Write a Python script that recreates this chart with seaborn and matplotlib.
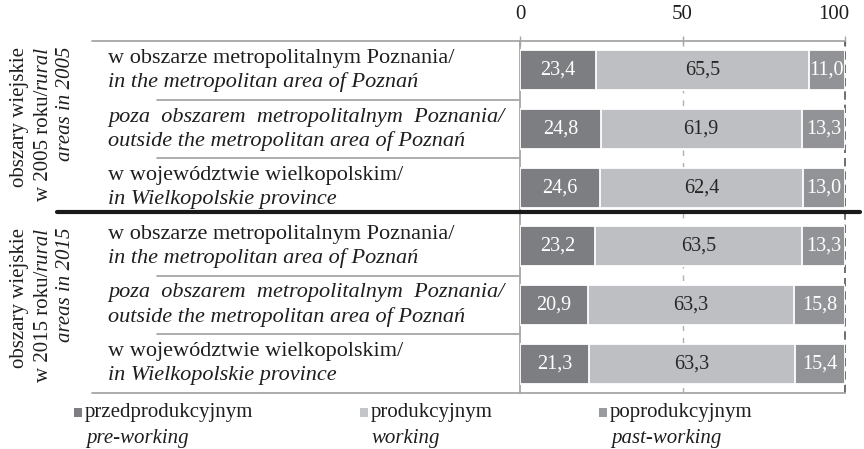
import pandas as pd
import matplotlib.pyplot as plt
import matplotlib.transforms as mtransforms
from matplotlib.patches import Rectangle
import seaborn as sns

# data (percent shares of population by age group)
row_keys = ["2005_metro", "2005_outside", "2005_prov", "2015_metro", "2015_outside", "2015_prov"]
pre_working = [23.4, 24.8, 24.6, 23.2, 20.9, 21.3]
working = [65.5, 61.9, 62.4, 63.5, 63.3, 63.3]
past_working = [11.0, 13.3, 13.0, 13.3, 15.8, 15.4]

row_pl = ["w obszarze metropolitalnym Poznania/",
          "poza  obszarem  metropolitalnym  Poznania/",
          "w województwie wielkopolskim/"] * 2
row_en = ["in the metropolitan area of Poznań",
          "outside the metropolitan area of Poznań",
          "in Wielkopolskie province"] * 2
row_pl_italic = [False, True, False] * 2

group_years = ["2005", "2015"]
legend_pl = ["przedprodukcyjnym", "produkcyjnym", "poprodukcyjnym"]
legend_en = ["pre-working", "working", "past-working"]
x_ticks = [0, 50, 100]

c_pre = "#7d7e82"
c_work = "#bebfc3"
c_past = "#929397"
line_grey = "#a6a6a6"
txt = "#1e1e1e"

df = pd.DataFrame({"row": row_keys, "pre": pre_working, "work": working, "past": past_working})
df["pre_work"] = df["pre"] + df["work"]
df["total"] = df["pre_work"] + df["past"]

sns.set_theme(style="white")
plt.rcParams["font.family"] = ["Liberation Serif", "DejaVu Serif"]
FS = 14.5      # numbers in bars, ticks
FS_ROW = 16    # row labels
FS_LEG = 15

fig = plt.figure(figsize=(8.64, 4.49), dpi=100)
ax = fig.add_axes([520 / 864, 1 - 393 / 449, 325 / 864, 352 / 449])

# stacked bars: draw cumulative totals from the back to the front
bar_kw = dict(orient="h", width=0.68, edgecolor="white", linewidth=1.3, zorder=3, saturation=1)
sns.barplot(data=df, y="row", x="total", color=c_past, ax=ax, **bar_kw)
sns.barplot(data=df, y="row", x="pre_work", color=c_work, ax=ax, **bar_kw)
sns.barplot(data=df, y="row", x="pre", color=c_pre, ax=ax, **bar_kw)

ax.set_xlim(0, 100)
ax.set_ylim(5.5, -0.5)
ax.set_xlabel("")
ax.set_ylabel("")
ax.set_yticks([])
ax.set_xticks(x_ticks)
ax.xaxis.tick_top()
ax.tick_params(axis="x", direction="inout", length=7, width=1, color=line_grey,
               labelsize=FS_LEG, pad=9, labelcolor=txt)
ax.get_xticklabels()[-1].set_ha("right")
ax.get_xticklabels()[-1].set_x(100)
lbl = ax.get_xticklabels()[-1]
lbl.set_transform(lbl.get_transform() + mtransforms.ScaledTranslation(4 / 100, 0, fig.dpi_scale_trans))
for s in ["top", "bottom", "left"]:
    ax.spines[s].set_color(line_grey)
    ax.spines[s].set_linewidth(1.3)
ax.spines["right"].set_visible(False)

# dashed guides at 50 and 100
ax.axvline(50, color="#b0b0b0", lw=1, ls=(0, (4, 5)), zorder=1)
ax.axvline(100, color="#555555", lw=1.2, ls=(0, (5, 3)), zorder=1, clip_on=False)

# segment labels
for i, r in df.iterrows():
    segs = [(0, r["pre"], "white"), (r["pre"], r["work"], "#262626"), (r["pre_work"], r["past"], "white")]
    for start, val, col in segs:
        ax.text(start + val / 2, i, f"{val:.1f}".replace(".", ","), ha="center", va="center",
                fontsize=FS, color=col, zorder=5)

# table lines on the left side
tr = mtransforms.blended_transform_factory(fig.transFigure, ax.transData)
for yb in [0.5, 1.5, 3.5, 4.5]:
    ax.plot([157 / 864, 520 / 864], [yb, yb], transform=tr, color=line_grey, lw=1.3, clip_on=False)
for yb in [-0.5, 5.5]:
    ax.plot([92 / 864, 520 / 864], [yb, yb], transform=tr, color=line_grey, lw=1.3, clip_on=False)
ax.plot([57 / 864, 860 / 864], [2.42, 2.42], transform=tr, color="#1a1a1a", lw=3, clip_on=False, zorder=6)

# row labels (two lines: Polish / English)
dy = 12 * 72 / 100
for i in range(len(row_keys)):
    up = mtransforms.offset_copy(tr, fig=fig, y=dy, units="points")
    dn = mtransforms.offset_copy(tr, fig=fig, y=-dy, units="points")
    ax.text(108 / 864, i, row_pl[i], transform=up, ha="left", va="center", fontsize=FS_ROW,
            style="italic" if row_pl_italic[i] else "normal", color=txt)
    ax.text(108 / 864, i, row_en[i], transform=dn, ha="left", va="center", fontsize=FS_ROW,
            style="italic", color=txt)

# rotated group labels
renderer = fig.canvas.get_renderer()
group_top = [-0.4, 2.68]
for g, year in enumerate(group_years):
    y0 = group_top[g]
    ax.text(20 / 864, y0, "obszary wiejskie", transform=tr, rotation=90, ha="center", va="top",
            fontsize=FS_LEG, color=txt)
    t_it = ax.text(43 / 864, y0, "rural", transform=tr, rotation=90, ha="center", va="top",
                   fontsize=FS_LEG, style="italic", color=txt)
    h = t_it.get_window_extent(renderer).height
    shifted = mtransforms.offset_copy(tr, fig=fig, y=-h * 72 / 100, units="points")
    ax.text(43 / 864, y0, f"w {year} roku/", transform=shifted, rotation=90, ha="center", va="top",
            fontsize=FS_LEG, color=txt)
    ax.text(66 / 864, y0, f"areas in {year}", transform=tr, rotation=90, ha="center", va="top",
            fontsize=FS_LEG, style="italic", color=txt)

# legend at the bottom
leg_sq_x = [74, 360, 599]
leg_colors = [c_pre, "#c4c5c9", "#9a9b9f"]
for k in range(3):
    x0 = leg_sq_x[k]
    fig.patches.append(Rectangle((x0 / 864, 1 - 417 / 449), 8 / 864, 9 / 449,
                                 transform=fig.transFigure, facecolor=leg_colors[k], edgecolor="none"))
    fig.text((x0 + 11) / 864, 1 - 413 / 449, legend_pl[k], ha="left", va="center", fontsize=FS_LEG, color=txt)
    fig.text((x0 + 12) / 864, 1 - 439 / 449, legend_en[k], ha="left", va="center", fontsize=FS_LEG,
             style="italic", color=txt)

fig.savefig("out.png", dpi=100, facecolor="white")
